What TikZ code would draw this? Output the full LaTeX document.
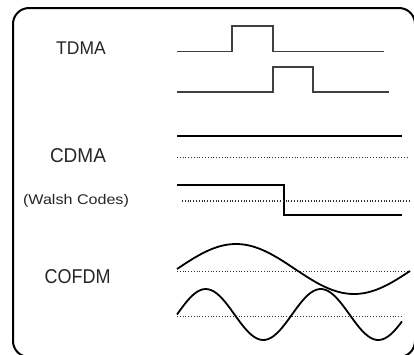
\documentclass[tikz,border=0pt]{standalone}
\usepackage{fontspec}
\setmainfont{Liberation Sans}
\begin{document}
\begin{tikzpicture}[x=1pt,y=-1pt,
  frame/.style={line width=2pt, rounded corners=16pt},
  pulse/.style={draw=black!75, line width=1.3pt},
  sig/.style={draw=black, line width=1.8pt},
  wave/.style={draw=black, line width=1.8pt},
  dotline/.style={draw=black!80, line width=1.1pt, dash pattern=on 1pt off 1.8pt},
  lbl/.style={inner sep=0pt, text=black!85}]
\useasboundingbox (0,0) rectangle (414,354);
\clip (0,0) rectangle (414,354);
\fill[white] (0,0) rectangle (414,354);
\draw[frame] (13,8) rectangle (415,357);
% labels
\node[lbl, font=\fontsize{17.5}{20}\selectfont, yscale=1.05] (tdma) at (81,48) {TDMA};
\node[lbl, font=\fontsize{20}{24}\selectfont, xscale=0.95] (cdma) at (78,155.5) {CDMA};
\node[lbl, font=\fontsize{14}{16}\selectfont, xscale=1.15] (walsh) at (76,201) {(Walsh Codes)};
\node[lbl, font=\fontsize{20}{24}\selectfont, xscale=0.9] (cofdm) at (77.5,277) {COFDM};
% TDMA pulses
\draw[pulse] (177,51.5) -- (232,51.5) -- (232,26) -- (273,26) -- (273,51.5) -- (384,51.5);
\draw[pulse] (177,92) -- (273,92) -- (273,67) -- (313,67) -- (313,92) -- (389,92);
% CDMA
\draw[sig] (177,136) -- (402,136);
\draw[dotline] (177,157.7) -- (409,157.7);
\draw[sig] (177,185) -- (284,185) -- (284,215) -- (402,215);
\draw[dotline] (182,201) -- (409,201);
% COFDM
\draw[dotline] (177,271.7) -- (410,271.7);
\draw[dotline] (177,316.7) -- (402,316.7);
\draw[wave] plot[domain=177:410, samples=80, smooth] (\x, {269 - 25*sin(360/236*(\x-177))});
\draw[wave] plot[domain=177:402, samples=80, smooth] (\x, {314.5 - 25.5*sin(360/115*(\x-177))});
\end{tikzpicture}
\end{document}
